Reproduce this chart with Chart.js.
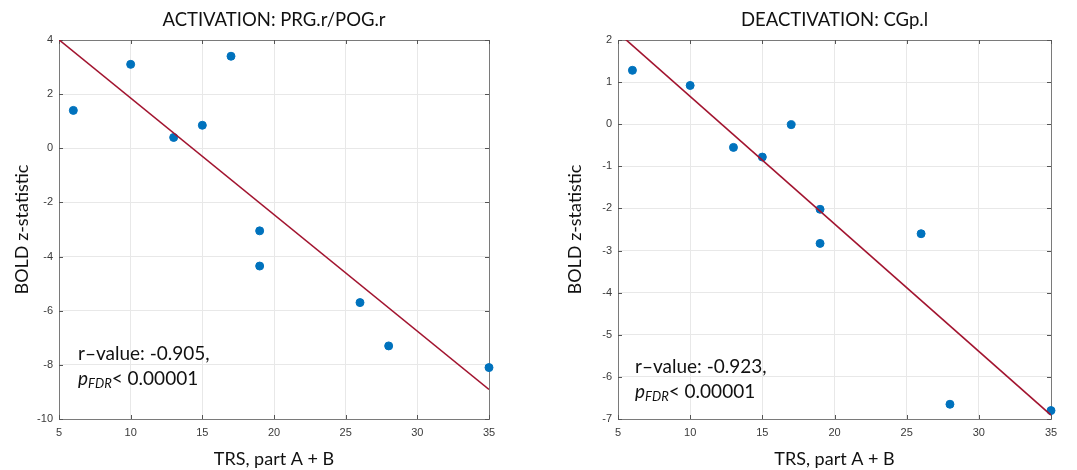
<!DOCTYPE html>
<html>
<head>
<meta charset="utf-8">
<script src="https://cdn.jsdelivr.net/npm/chart.js@4.4.1/dist/chart.umd.min.js"></script>
<style>
  html, body { margin:0; padding:0; background:#fff; }
  .panel { position:absolute; top:0; height:470px; }
  #left { left:0; width:540px; }
  #right { left:540px; width:537px; }
</style>
</head>
<body>
<div class="panel" id="left"><canvas id="activation"></canvas></div>
<div class="panel" id="right"><canvas id="deactivation"></canvas></div>
<script>
// TRS scores (x) shared by both panels
const trsScores = [6, 10, 13, 15, 17, 19, 19, 26, 28, 35];
// BOLD z-statistic
const activationZ = [1.4, 3.1, 0.4, 0.85, 3.4, -3.05, -4.35, -5.7, -7.3, -8.1];
const deactivationZ = [1.28, 0.92, -0.55, -0.78, -0.01, -2.02, -2.83, -2.6, -6.65, -6.8];

const xTicks = [5, 10, 15, 20, 25, 30, 35];
const activationTicks = [-10, -8, -6, -4, -2, 0, 2, 4];
const deactivationTicks = [-7, -6, -5, -4, -3, -2, -1, 0, 1, 2];

const titles = ['ACTIVATION: PRG.r/POG.r', 'DEACTIVATION: CGp.l'];
const rValues = ['r\u2013value: -0.905,', 'r\u2013value: -0.923,'];
const pLabel = ['p', 'FDR', '< 0.00001'];

const BLUE = '#0072BD', RED = '#A2142F';
const FONT = 'Lato, "Open Sans", sans-serif';
const TICKFONT = '"Liberation Sans", Arial, sans-serif';

// least squares line through the points, evaluated at the axis ends
function fitLine(xs, ys, x0, x1) {
  const n = xs.length;
  const mx = xs.reduce((a, b) => a + b, 0) / n;
  const my = ys.reduce((a, b) => a + b, 0) / n;
  let sxy = 0, sxx = 0;
  xs.forEach((x, i) => { sxy += (x - mx) * (ys[i] - my); sxx += (x - mx) * (x - mx); });
  const b = sxy / sxx;
  return [{x: x0, y: my + b * (x0 - mx)}, {x: x1, y: my + b * (x1 - mx)}];
}

// box, inward ticks and the r / p annotation
const boxPlugin = {
  id: 'box',
  beforeDatasetsDraw(chart) {
    const {ctx, chartArea: a, scales: {x, y}} = chart;
    ctx.save();
    ctx.strokeStyle = '#7a7a7a';
    ctx.lineWidth = 1;
    ctx.strokeRect(Math.round(a.left) + 0.5, Math.round(a.top) + 0.5,
      Math.round(a.right - a.left), Math.round(a.bottom - a.top));
    ctx.strokeStyle = '#555';
    ctx.beginPath();
    x.ticks.forEach(t => {
      const px = Math.round(x.getPixelForValue(t.value)) + 0.5;
      ctx.moveTo(px, a.bottom); ctx.lineTo(px, a.bottom - 4);
      ctx.moveTo(px, a.top); ctx.lineTo(px, a.top + 4);
    });
    y.ticks.forEach(t => {
      const py = Math.round(y.getPixelForValue(t.value)) + 0.5;
      ctx.moveTo(a.left, py); ctx.lineTo(a.left + 4, py);
      ctx.moveTo(a.right, py); ctx.lineTo(a.right - 4, py);
    });
    ctx.stroke();
    ctx.restore();
  },
  afterDatasetsDraw(chart, args, opts) {
    const {ctx, chartArea: a} = chart;
    ctx.save();
    const tx = a.left + opts.dx, ty = a.bottom - opts.dy;
    ctx.fillStyle = '#111';
    ctx.textBaseline = 'middle';
    ctx.font = '19px ' + FONT;
    ctx.fillText(opts.r, tx, ty);
    ctx.font = 'italic 19px ' + FONT;
    ctx.fillText(pLabel[0], tx, ty + 25);
    let w = ctx.measureText(pLabel[0]).width;
    ctx.font = 'italic 13px ' + FONT;
    ctx.fillText(pLabel[1], tx + w, ty + 30);
    w += ctx.measureText(pLabel[1]).width;
    ctx.font = '19px ' + FONT;
    ctx.fillText(pLabel[2], tx + w, ty + 25);
    ctx.restore();
  }
};

function makeChart(id, ys, yTicks, title, yAxisWidth, rightPad, yTitlePad, note) {
  const points = trsScores.map((x, i) => ({x, y: ys[i]}));
  const yMin = yTicks[0], yMax = yTicks[yTicks.length - 1];
  return new Chart(document.getElementById(id), {
    type: 'scatter',
    data: {
      datasets: [
        {
          type: 'line',
          data: fitLine(trsScores, ys, xTicks[0], xTicks[xTicks.length - 1]),
          borderColor: RED, borderWidth: 1.6, pointRadius: 0, fill: false
        },
        {
          data: points,
          backgroundColor: BLUE, borderColor: BLUE,
          pointRadius: 4, pointHoverRadius: 4, clip: false
        }
      ]
    },
    options: {
      responsive: true,
      maintainAspectRatio: false,
      animation: false,
      layout: {padding: {left: 0, right: rightPad, top: 0, bottom: 0}},
      plugins: {
        legend: {display: false},
        tooltip: {enabled: false},
        title: {
          display: true, text: title, color: '#111', fullSize: false,
          font: {family: FONT, size: 18.5, weight: 'normal'},
          padding: {top: 9, bottom: 8.8}
        },
        box: note
      },
      scales: {
        x: {
          type: 'linear', min: xTicks[0], max: xTicks[xTicks.length - 1],
          afterBuildTicks: s => { s.ticks = xTicks.map(v => ({value: v})); },
          afterFit: s => { s.height = 51; },
          ticks: {color: '#3a3a3a', font: {family: TICKFONT, size: 11}, padding: 7, maxRotation: 0},
          grid: {color: '#e8e8e8', drawTicks: false},
          border: {display: false},
          title: {display: true, text: 'TRS, part A + B', color: '#111',
            font: {family: FONT, size: 18}, padding: {top: 0, bottom: 0}}
        },
        y: {
          type: 'linear', min: yMin, max: yMax,
          afterBuildTicks: s => { s.ticks = yTicks.map(v => ({value: v})); },
          afterFit: s => { s.width = yAxisWidth; },
          ticks: {color: '#3a3a3a', font: {family: TICKFONT, size: 11}, padding: 6},
          grid: {color: '#e8e8e8', drawTicks: false},
          border: {display: false},
          title: {display: true, text: 'BOLD z-statistic', color: '#111',
            font: {family: FONT, size: 18}, padding: {top: yTitlePad, bottom: 0}}
        }
      }
    },
    plugins: [boxPlugin]
  });
}

makeChart('activation', activationZ, activationTicks, titles[0], 59, 51, 11,
  {r: rValues[0], dx: 19, dy: 65});
makeChart('deactivation', deactivationZ, deactivationTicks, titles[1], 78, 26, 24,
  {r: rValues[1], dx: 17, dy: 52});
</script>
</body>
</html>
